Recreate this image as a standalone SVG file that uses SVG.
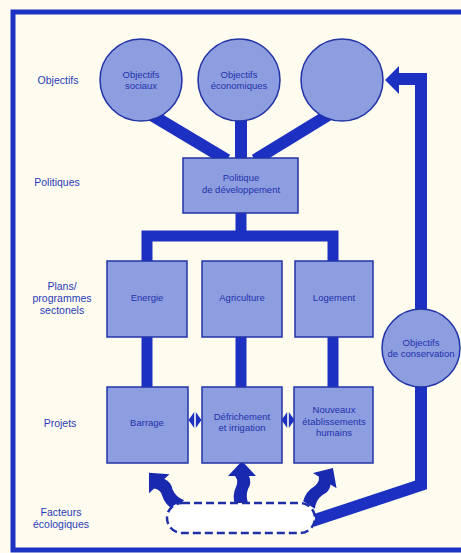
<svg xmlns="http://www.w3.org/2000/svg" width="461" height="553" viewBox="0 0 461 553">
<style>
.bg{fill:#fdfcef}
.frame{fill:none;stroke:#1d33c4;stroke-width:5}
.node{fill:#8c9de0;stroke:#2233a6;stroke-width:1.5}
.conn{fill:none;stroke:#1c30c2;stroke-width:12;stroke-linejoin:miter}
.thin{stroke-width:11}
.fillc{fill:#1c30c2}
.ntxt{font-family:"Liberation Sans",Arial,sans-serif;font-size:9.5px;fill:#2232a8;text-anchor:middle}
.ltxt{font-family:"Liberation Sans",Arial,sans-serif;font-size:10.5px;fill:#2a3ab8;text-anchor:middle}
.dash{fill:#ffffff;stroke:#1f2fa8;stroke-width:2.5;stroke-dasharray:8 4}
</style>
<defs>
<path id="warrow" d="M -7 0 Q -10 -10 -6 -18 Q -3 -24 -7 -29 L -14 -29 L 0 -44 L 14 -29 L 7 -29 Q 10 -22 6 -16 Q 3 -8 7 0 Z" fill="#1a2ab0"/>
<g id="dbl">
<polygon points="-6.5,0 -0.8,-8 -0.8,8" fill="#1c30c2"/>
<polygon points="6.5,0 0.8,-8 0.8,8" fill="#1c30c2"/>
</g>
</defs>
<rect class="bg" x="0" y="0" width="461" height="553"/>
<rect class="frame" x="13" y="12" width="470" height="538"/>

<g id="labels">
<text class="ltxt" x="58" y="84">Objectifs</text>
<text class="ltxt" x="57" y="186">Politiques</text>
<text class="ltxt" x="62" y="290">Plans/</text>
<text class="ltxt" x="62" y="302">programmes</text>
<text class="ltxt" x="62" y="314">sectonels</text>
<text class="ltxt" x="60" y="427">Projets</text>
<text class="ltxt" x="61" y="516">Facteurs</text>
<text class="ltxt" x="61" y="528">écologiques</text>
</g>

<g id="connectors">
<path class="conn" d="M 150 114 L 227 160"/>
<path class="conn" d="M 241 118 L 241 160"/>
<path class="conn" d="M 330 114 L 255 160"/>
<path class="conn thin" d="M 241 212 V 236"/>
<path class="conn thin" d="M 147 262 V 236 H 333 V 262"/>
<path class="conn thin" d="M 147 336 V 389"/>
<path class="conn thin" d="M 241 336 V 389"/>
<path class="conn thin" d="M 333 336 V 389"/>
<path class="conn" d="M 421 312 V 79 H 396"/>
<polygon class="fillc" points="385,80 399,66 399,94"/>
<path class="conn" d="M 421 384 V 485 L 312 521"/>
<use href="#dbl" x="195" y="420"/>
<use href="#dbl" x="288" y="420"/>
<use href="#warrow" transform="translate(179,505) rotate(-43)"/>
<use href="#warrow" transform="translate(242,505)"/>
<use href="#warrow" transform="translate(309,505) rotate(33)"/>
</g>

<g id="obj-sociaux">
<circle class="node" cx="141" cy="80" r="41"/>
<text class="ntxt" x="141" y="78">Objectifs</text>
<text class="ntxt" x="141" y="89">sociaux</text>
</g>
<g id="obj-economiques">
<circle class="node" cx="239" cy="80" r="41"/>
<text class="ntxt" x="239" y="78">Objectifs</text>
<text class="ntxt" x="239" y="89">économiques</text>
</g>
<g id="obj-vide">
<circle class="node" cx="342" cy="80" r="41"/>
</g>
<g id="politique">
<rect class="node" x="183" y="158" width="115" height="55"/>
<text class="ntxt" x="241" y="181">Politique</text>
<text class="ntxt" x="241" y="193">de développement</text>
</g>
<g id="energie">
<rect class="node" x="107" y="261" width="80" height="76"/>
<text class="ntxt" x="147" y="301">Energie</text>
</g>
<g id="agriculture">
<rect class="node" x="202" y="261" width="80" height="76"/>
<text class="ntxt" x="242" y="301">Agriculture</text>
</g>
<g id="logement">
<rect class="node" x="295" y="261" width="78" height="76"/>
<text class="ntxt" x="334" y="301">Logement</text>
</g>
<g id="barrage">
<rect class="node" x="107" y="387" width="81" height="76"/>
<text class="ntxt" x="147" y="426">Barrage</text>
</g>
<g id="defrichement">
<rect class="node" x="202" y="387" width="80" height="76"/>
<text class="ntxt" x="242" y="420">Défrichement</text>
<text class="ntxt" x="242" y="431">et irrigation</text>
</g>
<g id="etablissements">
<rect class="node" x="294" y="387" width="79" height="76"/>
<text class="ntxt" x="334" y="413">Nouveaux</text>
<text class="ntxt" x="334" y="425">établissements</text>
<text class="ntxt" x="334" y="436">humains</text>
</g>
<g id="conservation">
<circle class="node" cx="421" cy="348" r="39"/>
<text class="ntxt" x="421" y="346">Objectifs</text>
<text class="ntxt" x="421" y="357">de conservation</text>
</g>
<g id="facteurs">
<rect class="dash" x="167" y="503" width="148" height="30" rx="15" ry="15"/>
</g>
</svg>
